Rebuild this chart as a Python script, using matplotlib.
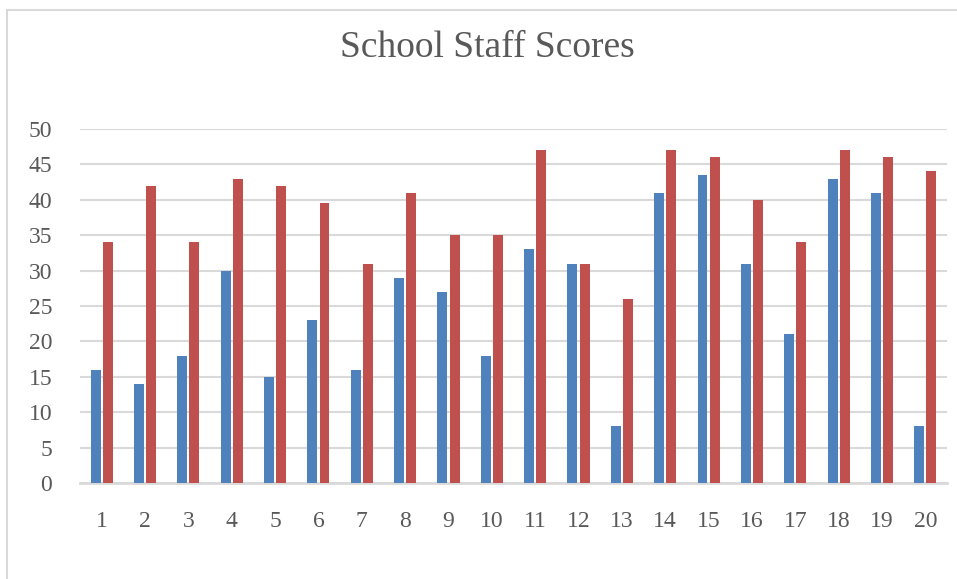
import numpy as np
import matplotlib.pyplot as plt
from matplotlib.patches import Rectangle

# data
categories = [str(i) for i in range(1, 21)]
series_a = [16, 14, 18, 30, 15, 23, 16, 29, 27, 18, 33, 31, 8, 41, 43.5, 31, 21, 43, 41, 8]
series_b = [34, 42, 34, 43, 42, 39.5, 31, 41, 35, 35, 47, 31, 26, 47, 46, 40, 34, 47, 46, 44]
y_ticks = [0, 5, 10, 15, 20, 25, 30, 35, 40, 45, 50]

plt.rcParams['font.family'] = ['Liberation Serif', 'DejaVu Serif']

W, H = 957, 579
fig = plt.figure(figsize=(W / 100, H / 100), dpi=100)

# light frame around the chart (clipped at right/bottom like the reference)
fig.patches.append(Rectangle((7 / W, -0.1), 1.2, 1.1 - 10 / H, transform=fig.transFigure,
                             fill=False, edgecolor='#d9d9d9', linewidth=1.5))

ax = fig.add_axes([80 / W, 1 - 483 / H, (947 - 80) / W, (483 - 129) / H])

x = np.arange(len(categories))
bw = 0.23
gap = 0.05
ax.bar(x - (bw + gap) / 2, series_a, width=bw, color='#4f81bd', zorder=3)
ax.bar(x + (bw + gap) / 2, series_b, width=bw, color='#c0504d', zorder=3)

ax.set_xlim(-0.5, len(categories) - 0.5)
ax.set_ylim(0, 50)
ax.set_yticks(y_ticks)
ax.set_xticks(x)
ax.set_xticklabels(categories)

ax.yaxis.grid(True, color='#d9d9d9', linewidth=1.5, zorder=0)
ax.set_axisbelow(True)
for s in ['top', 'right', 'left']:
    ax.spines[s].set_visible(False)
ax.spines['bottom'].set_color('#d9d9d9')
ax.spines['bottom'].set_linewidth(2)
ax.tick_params(axis='both', length=0, labelsize=17, labelcolor='#595959')
ax.tick_params(axis='x', pad=20)
ax.tick_params(axis='y', pad=20)

fig.text(487 / W, 1 - 48 / H, 'School Staff Scores', ha='center', va='center',
         fontsize=27, color='#595959')

fig.savefig('out.png', dpi=100)
